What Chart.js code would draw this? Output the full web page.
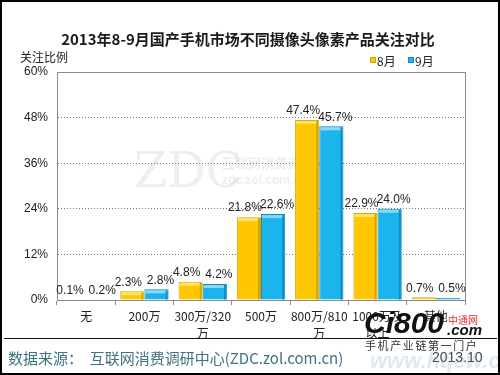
<!DOCTYPE html>
<html>
<head>
<meta charset="utf-8">
<script src="https://cdn.jsdelivr.net/npm/chart.js@4/dist/chart.umd.min.js"></script>
<style>
html,body{margin:0;padding:0;background:#fff;}
#wrap{width:500px;height:375px;position:relative;}
</style>
</head>
<body>
<div id="wrap"><canvas id="c" width="500" height="375"></canvas></div>
<script>
const categories = ["无", "200万", ["300万/320", "万"], "500万", ["800万/810", "万"], ["1000万及", "以上"], "其他"];
const seriesNames = ["8月", "9月"];
const aug = [0.1, 2.3, 4.8, 21.8, 47.4, 22.9, 0.7];
const sep = [0.2, 2.8, 4.2, 22.6, 45.7, 24.0, 0.5];
const yTicks = [0, 12, 24, 36, 48, 60];

const FONT = '"Liberation Sans", Arial, "Noto Sans CJK SC", sans-serif';
const CJK = '"Noto Sans CJK SC", "Liberation Sans", sans-serif';
const YELLOW = '#FFC700', YELLOW_B = '#D9A400', YELLOW_H = '#FFE36A';
const BLUE = '#1CB4EC', BLUE_B = '#0E8FC0', BLUE_H = '#86DAF8';

const decor = {
  id: 'decor',
  beforeDraw(chart) {
    const ctx = chart.ctx;
    ctx.save();
    ctx.fillStyle = '#fff';
    ctx.fillRect(0, 0, chart.width, chart.height);
    ctx.fillStyle = 'rgba(200,200,200,0.3)';
    ctx.font = '48px "DejaVu Serif", serif';
    ctx.textBaseline = 'alphabetic';
    ctx.textAlign = 'left';
    ctx.fillText('ZDC', 134, 187);
    ctx.font = 'bold 13px ' + CJK;
    ctx.fillText('互联网消费调研中心', 222, 168);
    ctx.font = 'bold 12px ' + FONT;
    ctx.fillText('zdc.zol.com.cn', 222, 184);
    ctx.restore();
  },
  afterDatasetsDraw(chart) {
    const ctx = chart.ctx;
    const ca = chart.chartArea;
    ctx.save();
    // bevel highlights on bars
    const hl = [YELLOW_H, BLUE_H];
    const dk = [YELLOW_B, BLUE_B];
    chart.data.datasets.forEach((ds, di) => {
      chart.getDatasetMeta(di).data.forEach(bar => {
        const w = bar.width, h = bar.base - bar.y;
        const x0 = bar.x - w / 2;
        if (h > 3) {
          ctx.fillStyle = hl[di];
          ctx.fillRect(x0 + 1, bar.y + 1, w - 2, 3);
          ctx.fillStyle = dk[di];
          ctx.fillRect(x0 + w - 3, bar.y + 1, 2, h - 1);
        }
      });
    });
    // plot frame
    ctx.strokeStyle = '#8a8a8a';
    ctx.lineWidth = 1;
    ctx.strokeRect(Math.round(ca.left) + 0.5, Math.round(ca.top) + 0.5, Math.round(ca.right - ca.left), Math.round(ca.bottom - ca.top));
    // value labels
    ctx.font = '12px ' + FONT;
    ctx.fillStyle = '#222';
    ctx.textAlign = 'center';
    ctx.textBaseline = 'bottom';
    const shift = [-4, 4];
    chart.data.datasets.forEach((ds, di) => {
      chart.getDatasetMeta(di).data.forEach((bar, i) => {
        ctx.fillText(ds.data[i].toFixed(1) + '%', bar.x + shift[di], bar.y - 3);
      });
    });
    // title
    ctx.font = 'bold 15px ' + CJK;
    ctx.fillStyle = '#1a1a1a';
    ctx.textBaseline = 'middle';
    ctx.fillText('2013年8-9月国产手机市场不同摄像头像素产品关注对比', 248, 39);
    // y axis title
    ctx.font = '12px ' + CJK;
    ctx.fillStyle = '#222';
    ctx.textAlign = 'left';
    ctx.fillText('关注比例', 20, 57);
    // legend
    const legend = [[370, YELLOW, YELLOW_B, seriesNames[0]], [408, BLUE, BLUE_B, seriesNames[1]]];
    legend.forEach(([x, c, b, t]) => {
      ctx.fillStyle = c;
      ctx.fillRect(x, 57, 6, 6);
      ctx.strokeStyle = b;
      ctx.strokeRect(x + 0.5, 57.5, 5, 5);
      ctx.fillStyle = '#222';
      ctx.font = '12px ' + CJK;
      ctx.fillText(t, x + 7, 61);
    });
    // separator
    ctx.strokeStyle = '#111';
    ctx.lineWidth = 1;
    ctx.beginPath();
    ctx.moveTo(4, 338.5);
    ctx.lineTo(497, 338.5);
    ctx.stroke();
    // footer
    ctx.fillStyle = '#3f7282';
    ctx.font = '15px ' + CJK;
    ctx.fillText('数据来源：  互联网消费调研中心(ZDC.zol.com.cn)', 8, 358);
    ctx.fillStyle = '#444';
    ctx.font = '14px ' + FONT;
    ctx.fillText('2013.10', 432, 358);
    // Ci800 logo text
    ctx.fillStyle = 'rgba(120,150,190,0.22)';
    ctx.font = 'bold italic 22px ' + FONT;
    ctx.fillText('www.hqew.com', 370, 362);
    ctx.fillStyle = '#111';
    ctx.font = 'bold italic 30px ' + FONT;
    ctx.fillText('Ci800', 364, 325);
    ctx.font = 'bold italic 15px ' + FONT;
    ctx.fillText('.com', 447, 331);
    ctx.fillStyle = '#e03030';
    ctx.font = '10px ' + CJK;
    ctx.fillText('中通网', 448, 320);
    ctx.fillStyle = '#333';
    ctx.font = '11px ' + CJK;
    const slogan = '手机产业链第一门户';
    for (let k = 0; k < slogan.length; k++) ctx.fillText(slogan[k], 365 + k * 12.6, 346);
    // outer frame
    ctx.strokeStyle = '#000';
    ctx.lineWidth = 2;
    ctx.strokeRect(1, 1, chart.width - 2, chart.height - 2);
    ctx.restore();
  }
};

new Chart(document.getElementById('c'), {
  type: 'bar',
  data: {
    labels: categories,
    datasets: [
      { label: seriesNames[0], data: aug, backgroundColor: YELLOW, borderColor: YELLOW_B, borderWidth: 1 },
      { label: seriesNames[1], data: sep, backgroundColor: BLUE, borderColor: BLUE_B, borderWidth: 1 }
    ]
  },
  options: {
    responsive: false,
    animation: false,
    devicePixelRatio: 1,
    layout: { padding: { left: 0, right: 35, top: 72, bottom: 0 } },
    datasets: { bar: { categoryPercentage: 0.83, barPercentage: 1.0 } },
    plugins: { legend: { display: false }, title: { display: false }, tooltip: { enabled: false } },
    scales: {
      x: {
        afterFit(s) { s.height = 75; },
        grid: { display: true, drawOnChartArea: false, drawTicks: true, tickLength: 5, color: '#8a8a8a', offset: true },
        border: { display: true, color: '#8a8a8a' },
        ticks: { color: '#222', font: { family: CJK, size: 12, lineHeight: 1.4 }, padding: 3, maxRotation: 0, autoSkip: false }
      },
      y: {
        min: 0, max: 60,
        afterFit(s) { s.width = 57; },
        afterBuildTicks(s) { s.ticks = yTicks.map(v => ({ value: v })); },
        grid: {
          drawTicks: false,
          color: c => (c.tick && (c.tick.value === 0 || c.tick.value === 60)) ? 'rgba(0,0,0,0)' : '#777',
          borderDash: [1, 2]
        },
        border: { display: true, color: '#8a8a8a', dash: [1, 2] },
        ticks: { color: '#222', font: { family: FONT, size: 12 }, padding: 9, callback: v => v + '%' }
      }
    }
  },
  plugins: [decor]
});
</script>
</body>
</html>
